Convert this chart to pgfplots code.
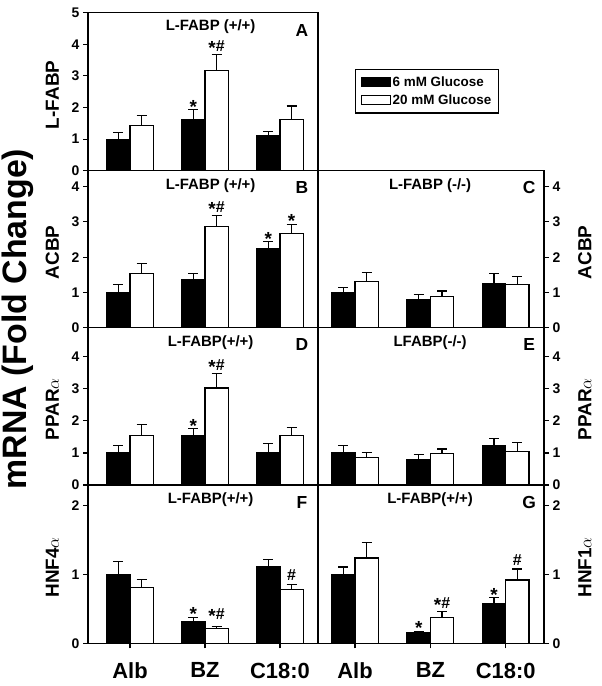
\documentclass[border=0pt]{standalone}
\usepackage{fontspec}
\setmainfont{Liberation Sans}
\usepackage{pgfplots}
\pgfplotsset{compat=1.18}

\newcommand{\fs}[1]{\fontsize{#1}{#1}\selectfont\bfseries}
\newcommand{\sig}{\raisebox{-3bp}{\fontsize{19}{19}\selectfont *}}

\pgfplotsset{
  panel/.style={
    scale only axis,
    ybar=0pt, bar width=23.3bp,
    ymin=0,
    axis line style={line width=1.2pt},
    every tick/.style={black, line width=1.2pt},
    tick align=outside, major tick length=5bp,
    xtick=\empty,
    yticklabel style={font=\fs{14}},
    /pgf/number format/assume math mode=true,
    clip=false,
    legend image code/.code={\draw[#1, line width=1pt] (0bp,-4.5bp) rectangle (29bp,4.5bp);},
  },
  leftpanel/.style={panel, width=230bp, xmin=-0.56, xmax=2.507, ytick pos=left,
    every axis y label/.style={at={(axis description cs:-0.155,0.48)}, rotate=90, anchor=center, font=\fs{19}}},
  rightpanel/.style={panel, width=226bp, xmin=-0.491, xmax=2.508, ytick pos=right, yticklabel pos=right,
    every axis y label/.style={at={(axis description cs:1.181,0.48)}, rotate=90, anchor=center, font=\fs{19}}},
  bottomrow/.style={xtick={0,1,2}, xticklabels={Alb,BZ,C18:0}, xtick pos=left,
    xticklabel style={font=\fs{22}, yshift=-11bp}},
  errs/.style={error bars/y dir=plus, error bars/y explicit,
    error bars/error bar style={line width=1.2pt, black},
    error bars/error mark options={rotate=90, line width=1.2pt, mark size=5bp, black}},
  g6/.style={fill=black, draw=black, line width=1.2pt, errs},
  g20/.style={fill=white, draw=black, line width=1.2pt, errs},
}
\tikzset{
  st/.style={font=\fs{14}, anchor=base, inner sep=0pt, yshift=-0.5bp},
  sh/.style={font=\fs{16}, anchor=base, inner sep=0pt, yshift=3.5bp},
  ttl/.style={font=\fs{15}},
  lett/.style={font=\fs{17.5}},
}

\begin{document}
\begin{tikzpicture}
\useasboundingbox (0,-686bp) rectangle (602bp,0);

% A
\begin{axis}[leftpanel, at={(88bp,-170.7bp)}, anchor=south west, height=158bp,
  ymax=5, ytick={0,...,5}, ylabel={L-FABP},
  legend style={at={(axis description cs:1.161,0.644)}, anchor=north west,
    draw=black, line width=1.2pt, font=\fs{13.5}, cells={anchor=west},
    row sep=3bp, inner xsep=5bp, inner ysep=5bp}]
\addplot[g6] coordinates {(0,1.0) +- (0,0.2) (1,1.61) +- (0,0.32) (2,1.1) +- (0,0.14)};
\addplot[g20] coordinates {(0,1.44) +- (0,0.3) (1,3.17) +- (0,0.5) (2,1.63) +- (0,0.42)};
\addlegendentry{6 mM Glucose}
\addlegendentry{20 mM Glucose}
\node[st] at (axis cs:0.845,1.93) {\sig};
\node[sh] at (axis cs:1.155,3.67) {\sig\#};
\node[ttl] at (axis description cs:0.533,0.91) {L-FABP (+/+)};
\node[lett] at (axis description cs:0.93,0.89) {A};
\end{axis}

% B
\begin{axis}[leftpanel, at={(88bp,-327.7bp)}, anchor=south west, height=157bp,
  ymax=4.45, ytick={0,...,4}, ylabel={ACBP}]
\addplot[g6] coordinates {(0,1.0) +- (0,0.23) (1,1.37) +- (0,0.17) (2,2.24) +- (0,0.2)};
\addplot[g20] coordinates {(0,1.54) +- (0,0.29) (1,2.87) +- (0,0.31) (2,2.68) +- (0,0.25)};
\node[sh] at (axis cs:1.155,3.18) {\sig\#};
\node[st] at (axis cs:1.845,2.44) {\sig};
\node[st] at (axis cs:2.155,2.93) {\sig};
\node[ttl] at (axis description cs:0.533,0.908) {L-FABP (+/+)};
\node[lett] at (axis description cs:0.93,0.892) {B};
\end{axis}

% C
\begin{axis}[rightpanel, at={(318bp,-327.7bp)}, anchor=south west, height=157bp,
  ymax=4.45, ytick={0,...,4}, ylabel={ACBP}]
\addplot[g6] coordinates {(0,1.0) +- (0,0.15) (1,0.8) +- (0,0.13) (2,1.25) +- (0,0.28)};
\addplot[g20] coordinates {(0,1.32) +- (0,0.24) (1,0.89) +- (0,0.15) (2,1.22) +- (0,0.22)};
\node[ttl] at (axis description cs:0.496,0.908) {L-FABP (-/-)};
\node[lett] at (axis description cs:0.934,0.892) {C};
\end{axis}

% D
\begin{axis}[leftpanel, at={(88bp,-485bp)}, anchor=south west, height=157.3bp,
  ymax=4.9, ytick={0,...,4}, ylabel={PPAR$\alpha$}]
\addplot[g6] coordinates {(0,1.0) +- (0,0.22) (1,1.55) +- (0,0.21) (2,1.0) +- (0,0.3)};
\addplot[g20] coordinates {(0,1.55) +- (0,0.33) (1,3.02) +- (0,0.45) (2,1.54) +- (0,0.26)};
\node[st] at (axis cs:0.845,1.76) {\sig};
\node[sh] at (axis cs:1.155,3.47) {\sig\#};
\node[ttl] at (axis description cs:0.533,0.908) {L-FABP(+/+)};
\node[lett] at (axis description cs:0.93,0.892) {D};
\end{axis}

% E
\begin{axis}[rightpanel, at={(318bp,-485bp)}, anchor=south west, height=157.3bp,
  ymax=4.9, ytick={0,...,4}, ylabel={PPAR$\alpha$}]
\addplot[g6] coordinates {(0,1.0) +- (0,0.23) (1,0.78) +- (0,0.18) (2,1.22) +- (0,0.22)};
\addplot[g20] coordinates {(0,0.86) +- (0,0.16) (1,0.97) +- (0,0.15) (2,1.04) +- (0,0.29)};
\node[ttl] at (axis description cs:0.496,0.908) {LFABP(-/-)};
\node[lett] at (axis description cs:0.934,0.892) {E};
\end{axis}

% F
\begin{axis}[leftpanel, bottomrow, at={(88bp,-643.3bp)}, anchor=south west, height=158.3bp,
  ymax=2.3, ytick={0,1,2}, ylabel={HNF4$\alpha$}]
\addplot[g6] coordinates {(0,1.0) +- (0,0.19) (1,0.32) +- (0,0.06) (2,1.11) +- (0,0.11)};
\addplot[g20] coordinates {(0,0.81) +- (0,0.12) (1,0.22) +- (0,0.03) (2,0.78) +- (0,0.08)};
\node[st] at (axis cs:0.845,0.38) {\sig};
\node[sh] at (axis cs:1.155,0.3) {\sig\#};
\node[sh] at (axis cs:2.155,0.86) {\#};
\node[ttl] at (axis description cs:0.533,0.908) {L-FABP(+/+)};
\node[lett] at (axis description cs:0.93,0.892) {F};
\end{axis}

% G
\begin{axis}[rightpanel, bottomrow, at={(318bp,-643.3bp)}, anchor=south west, height=158.3bp,
  ymax=2.3, ytick={0,1,2}, ylabel={HNF1$\alpha$}]
\addplot[g6] coordinates {(0,1.0) +- (0,0.11) (1,0.155) +- (0,0.02) (2,0.58) +- (0,0.08)};
\addplot[g20] coordinates {(0,1.24) +- (0,0.23) (1,0.38) +- (0,0.08) (2,0.92) +- (0,0.16)};
\node[st] at (axis cs:0.845,0.175) {\sig};
\node[sh] at (axis cs:1.155,0.46) {\sig\#};
\node[st] at (axis cs:1.845,0.66) {\sig};
\node[sh] at (axis cs:2.155,1.08) {\#};
\node[ttl] at (axis description cs:0.496,0.908) {L-FABP(+/+)};
\node[lett] at (axis description cs:0.934,0.892) {G};
\end{axis}

\node[rotate=90, font=\fs{34}] at (18bp,-319bp) {mRNA (Fold Change)};
\end{tikzpicture}
\end{document}
